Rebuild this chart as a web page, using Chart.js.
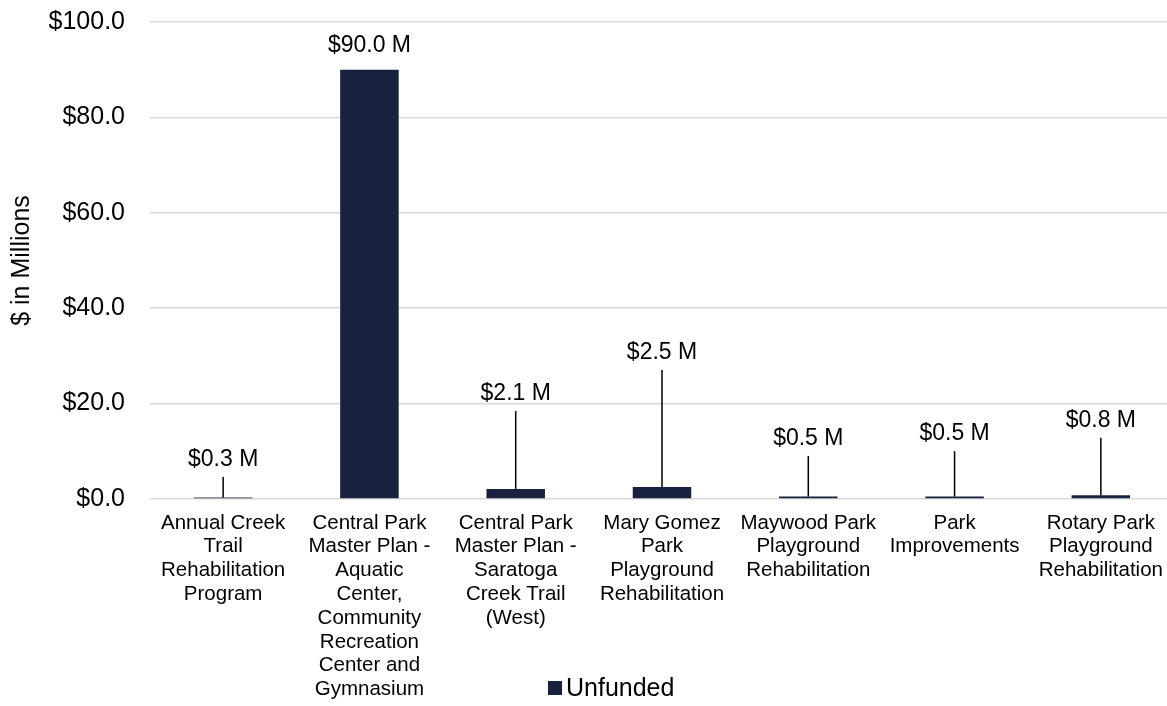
<!DOCTYPE html>
<html>
<head>
<meta charset="utf-8">
<script src="https://cdn.jsdelivr.net/npm/chart.js@4/dist/chart.umd.min.js"></script>
<style>
    html,body{margin:0;padding:0;background:#fff;overflow:hidden;}
    #wrap{width:1174px;height:706px;position:relative;}
</style>
</head>
<body>
<div id="wrap"><canvas id="unfundedChart"></canvas></div>
<script>

// ==========================
// Data
// ==========================

const categories=[
    ["Annual Creek","Trail","Rehabilitation","Program"],
    ["Central Park","Master Plan -","Aquatic","Center,","Community","Recreation","Center and","Gymnasium"],
    ["Central Park","Master Plan -","Saratoga","Creek Trail","(West)"],
    ["Mary Gomez","Park","Playground","Rehabilitation"],
    ["Maywood Park","Playground","Rehabilitation"],
    ["Park","Improvements"],
    ["Rotary Park","Playground","Rehabilitation"]
];

const unfunded=[0.3,90.0,2.1,2.5,0.5,0.5,0.8];

const yTicks=[0,20,40,60,80,100];

// where the callout labels sit, in $M on the y axis
const labelAt=[8.2,95.0,22.0,30.6,12.6,13.6,16.4];

const navy="#18223f";
const FONT="'Liberation Sans', Arial, sans-serif";

// ==========================
// Callout labels with leader lines
// ==========================

const calloutPlugin={
    id:"callouts",
    afterDatasetsDraw(chart){
        const ctx=chart.ctx;
        const y=chart.scales.y;
        const bars=chart.getDatasetMeta(0).data;
        ctx.save();
        ctx.font="23px "+FONT;
        ctx.fillStyle="#000";
        ctx.textAlign="center";
        ctx.textBaseline="middle";
        bars.forEach((bar,i)=>{
            const v=unfunded[i];
            const ly=y.getPixelForValue(labelAt[i]);
            ctx.fillText("$"+v.toFixed(1)+" M",bar.x,ly);
            const lineTop=ly+17;
            if(lineTop<bar.y-12){
                ctx.beginPath();
                ctx.strokeStyle="#000";
                ctx.lineWidth=1.5;
                ctx.moveTo(bar.x,lineTop);
                ctx.lineTo(bar.x,bar.y);
                ctx.stroke();
            }
        });
        ctx.restore();
    },
    afterDraw(chart){
        // legend
        const ctx=chart.ctx;
        const ds=chart.data.datasets[0];
        ctx.save();
        ctx.fillStyle=ds.backgroundColor;
        ctx.fillRect(548,681,14,14);
        ctx.font="25px "+FONT;
        ctx.fillStyle="#000";
        ctx.textAlign="left";
        ctx.textBaseline="middle";
        ctx.fillText(ds.label,566,689);
        ctx.restore();
    }
};

// ==========================
// Chart
// ==========================

new Chart(document.getElementById("unfundedChart"),{

    type:"bar",

    data:{
        labels:categories,
        datasets:[{
            label:"Unfunded",
            data:unfunded,
            backgroundColor:navy,
            borderWidth:0,
            categoryPercentage:1,
            barPercentage:0.4
        }]
    },

    options:{
        responsive:true,
        maintainAspectRatio:false,
        animation:false,
        devicePixelRatio:1,
        layout:{
            padding:{top:22,right:0,bottom:0,left:0}
        },
        plugins:{
            legend:{display:false},
            tooltip:{enabled:false}
        },
        scales:{
            x:{
                grid:{display:false,drawTicks:false},
                border:{display:false},
                ticks:{
                    autoSkip:false,
                    maxRotation:0,
                    minRotation:0,
                    padding:12,
                    color:"#000",
                    font:{family:FONT,size:20.5,lineHeight:"23.8px"}
                },
                afterFit(scale){
                    scale.height=207;
                    scale.paddingLeft=0;
                    scale.paddingRight=0;
                }
            },
            y:{
                min:0,
                max:100,
                afterBuildTicks(scale){
                    scale.ticks=yTicks.map(v=>({value:v}));
                },
                grid:{color:"#d9d9d9",lineWidth:1.5,drawTicks:false},
                border:{display:false},
                ticks:{
                    padding:25,
                    color:"#000",
                    font:{family:FONT,size:25},
                    callback:v=>"$"+Number(v).toFixed(1)
                },
                title:{
                    display:true,
                    text:"$ in Millions",
                    color:"#000",
                    padding:{top:7,bottom:0},
                    font:{family:FONT,size:25}
                },
                afterFit(scale){
                    scale.width=150;
                    scale.paddingTop=0;
                    scale.paddingBottom=0;
                }
            }
        }
    },

    plugins:[calloutPlugin]

});

</script>
</body>
</html>
